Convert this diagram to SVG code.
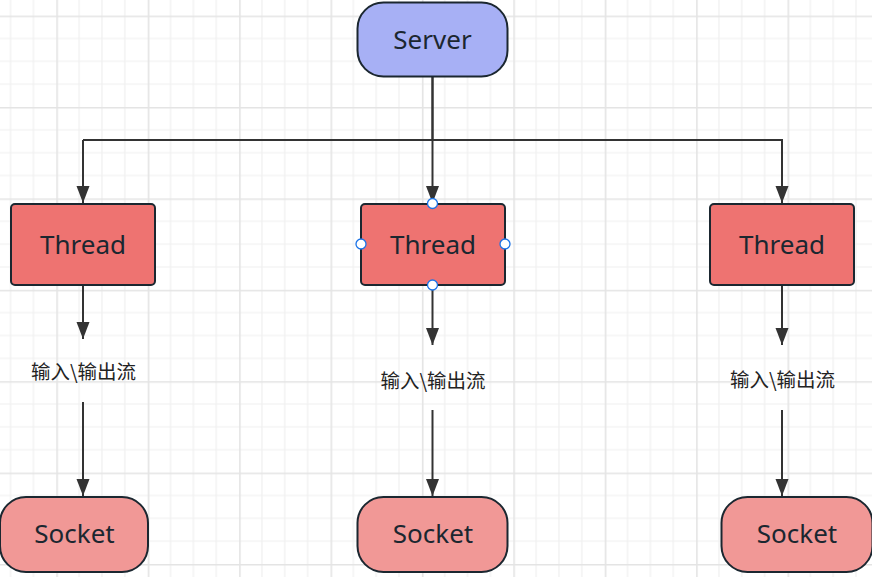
<svg xmlns="http://www.w3.org/2000/svg" width="872" height="577" viewBox="0 0 872 577">
<defs>
<pattern id="grid" patternUnits="userSpaceOnUse" x="56.3" y="15.6" width="91.4" height="91.4">
<rect width="91.4" height="91.4" fill="#ffffff"/>
<g stroke="#f0f0f0" stroke-width="1.2">
<line x1="22.85" y1="0" x2="22.85" y2="91.4"/>
<line x1="45.7" y1="0" x2="45.7" y2="91.4"/>
<line x1="68.55" y1="0" x2="68.55" y2="91.4"/>
<line x1="0" y1="22.85" x2="91.4" y2="22.85"/>
<line x1="0" y1="45.7" x2="91.4" y2="45.7"/>
<line x1="0" y1="68.55" x2="91.4" y2="68.55"/>
</g>
<g stroke="#e4e4e4" stroke-width="1.6">
<line x1="0.8" y1="0" x2="0.8" y2="91.4"/>
<line x1="0" y1="0.8" x2="91.4" y2="0.8"/>
</g>
</pattern>
<marker id="arr" markerUnits="userSpaceOnUse" markerWidth="18" markerHeight="14" refX="17" refY="6.5" orient="auto">
<path d="M0,0 L17,6.5 L0,13 z" fill="#333333"/>
</marker>
</defs>
<style>
.edge{fill:none;stroke:#333333;stroke-width:2;marker-end:url(#arr)}
.plain{fill:none;stroke:#333333;stroke-width:2}
.box{stroke:#1b2730;stroke-width:2}
.thread{fill:#ee7371}
.socket{fill:#f19896}
.server{fill:#a7b0f5}
.nt{font-family:"Noto Sans","Open Sans",sans-serif;font-size:26px;fill:#1b2730;text-anchor:middle}
.lbl{font-family:"Noto Sans CJK SC","Noto Sans",sans-serif;font-size:19.5px;fill:#222222;text-anchor:middle}
.handle{fill:#ffffff;stroke:#1a73e8;stroke-width:1.3}
</style>
<rect width="872" height="577" fill="url(#grid)"/>
<g id="connectors">
<path class="plain" d="M432.5,77 V140 H83"/>
<path class="edge" d="M83,140 V203"/>
<path class="edge" d="M432.5,77 V203"/>
<path class="edge" d="M432.5,140 H782 V203"/>
<path class="edge" d="M83,285 V339"/>
<path class="edge" d="M83,402 V496"/>
<path class="edge" d="M432.5,285 V345"/>
<path class="edge" d="M432.5,410 V496"/>
<path class="edge" d="M782,285 V345"/>
<path class="edge" d="M782,410 V496"/>
</g>
<g id="server">
<rect class="box server" x="357.5" y="2.5" width="150" height="74" rx="26" ry="26"/>
<text class="nt" x="432.5" y="49">Server</text>
</g>
<g id="thread-left">
<rect class="box thread" x="11" y="204" width="144" height="81" rx="4"/>
<text class="nt" x="83" y="253.5">Thread</text>
</g>
<g id="thread-mid">
<rect class="box thread" x="361" y="204" width="144" height="81" rx="4"/>
<text class="nt" x="433" y="253.5">Thread</text>
<circle class="handle" cx="432.5" cy="203.5" r="5"/>
<circle class="handle" cx="361" cy="244" r="5"/>
<circle class="handle" cx="505" cy="244" r="5"/>
<circle class="handle" cx="432.5" cy="285" r="5"/>
</g>
<g id="thread-right">
<rect class="box thread" x="710" y="204" width="144" height="81" rx="4"/>
<text class="nt" x="782" y="253.5">Thread</text>
</g>
<g id="label-left">
<text class="lbl" x="83.5" y="378.5">输入\输出流</text>
</g>
<g id="label-mid">
<text class="lbl" x="433" y="387.5">输入\输出流</text>
</g>
<g id="label-right">
<text class="lbl" x="782.5" y="386.5">输入\输出流</text>
</g>
<g id="socket-left">
<rect class="box socket" x="0" y="497" width="148" height="75" rx="26" ry="26"/>
<text class="nt" x="74.5" y="543">Socket</text>
</g>
<g id="socket-mid">
<rect class="box socket" x="357.5" y="497" width="150" height="75" rx="26" ry="26"/>
<text class="nt" x="433" y="543">Socket</text>
</g>
<g id="socket-right">
<rect class="box socket" x="721.5" y="497" width="151" height="75" rx="26" ry="26"/>
<text class="nt" x="797" y="543">Socket</text>
</g>
</svg>
